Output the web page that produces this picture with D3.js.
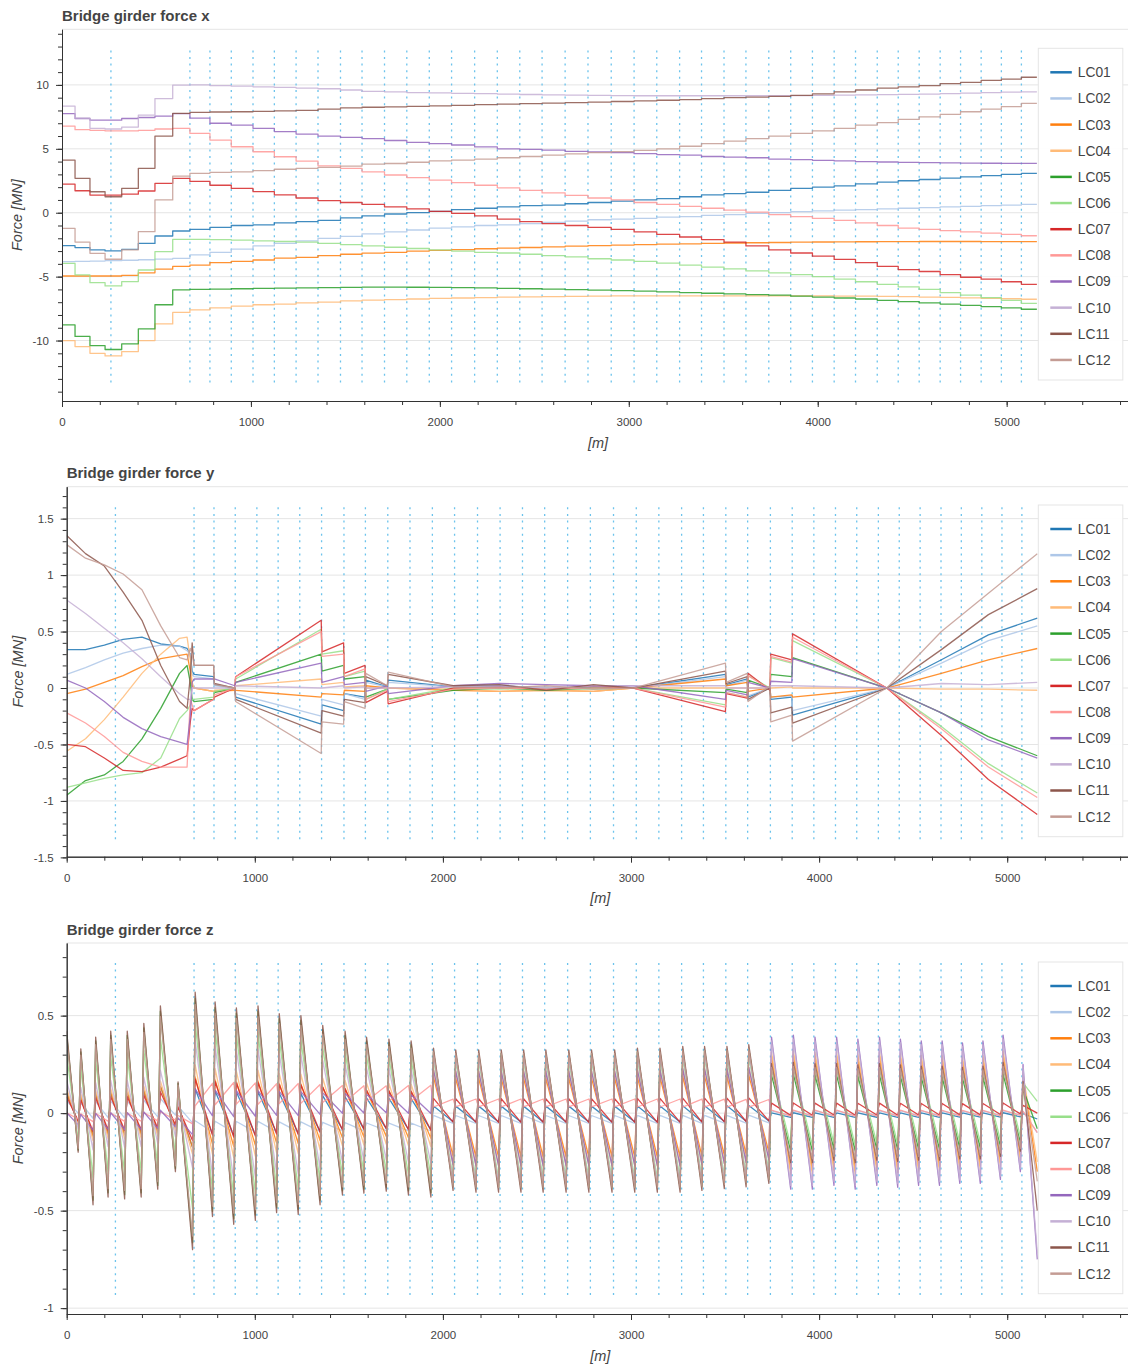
<!DOCTYPE html>
<html><head><meta charset="utf-8">
<script src="https://cdn.jsdelivr.net/npm/d3@7"></script>
<style>
html,body{margin:0;padding:0;background:#fff;}
svg{display:block;font-family:"Liberation Sans",Arial,Helvetica,sans-serif;}
</style></head><body>
<svg id="c" width="1128" height="1367"></svg>
<script>
// ---------------- shared data ----------------
const seriesNames = ["LC01","LC02","LC03","LC04","LC05","LC06","LC07","LC08","LC09","LC10","LC11","LC12"];
const seriesColors = ["#1f77b4","#aec7e8","#ff7f0e","#ffbb78","#2ca02c","#98df8a","#d62728","#ff9896","#9467bd","#c5b0d5","#8c564b","#c49c94"];
const piers = [259,677,783,896,1011,1124,1239,1355,1474,1588,1707,1825,1944,2062,2184,2304,2423,2541,2663,2784,2907,3028,3148,3269,3385,3504,3620,3741,3857,3972,4087,4200,4315,4426,4537,4648,4756,4865,4972,5078];
const xTickVals = [0,1000,2000,3000,4000,5000];
const xTickLabels = ["0","1000","2000","3000","4000","5000"];
const xMinorVals = d3.range(0, 5601, 200);

// ---------------- chart 1 : force x (step lines) ----------------
const fxX = [0,69,148,228,316,404,492,586,677,783,896,1011,1124,1239,1355,1474,1588,1707,1825,1944,2062,2184,2304,2423,2541,2663,2784,2907,3028,3148,3269,3385,3504,3620,3741,3857,3972,4087,4200,4315,4426,4537,4648,4756,4865,4972,5078];
const fxEndX = 5160;
const fxLC01 = [-2.58,-2.73,-2.9,-2.99,-2.86,-2.4,-1.82,-1.43,-1.3,-1.14,-1.0,-0.95,-0.8,-0.7,-0.6,-0.4,-0.25,-0.1,0.0,0.1,0.25,0.35,0.45,0.55,0.6,0.7,0.8,0.9,1.0,1.1,1.25,1.4,1.5,1.6,1.75,1.9,2.0,2.1,2.25,2.4,2.5,2.6,2.7,2.8,2.9,3.0,3.08];
const fxLC02 = [-3.83,-3.8,-3.78,-3.75,-3.72,-3.68,-3.63,-3.57,-3.3,-3.1,-2.85,-2.6,-2.4,-2.2,-2.0,-1.85,-1.65,-1.5,-1.35,-1.2,-1.1,-1.0,-0.95,-0.85,-0.75,-0.65,-0.55,-0.5,-0.45,-0.35,-0.3,-0.2,-0.15,-0.05,0.0,0.08,0.15,0.2,0.25,0.3,0.35,0.4,0.45,0.5,0.55,0.6,0.65];
const fxLC03 = [-4.95,-4.95,-4.95,-4.95,-4.9,-4.7,-4.42,-4.2,-4.1,-3.9,-3.8,-3.7,-3.55,-3.5,-3.35,-3.25,-3.16,-3.1,-3.0,-2.95,-2.88,-2.82,-2.77,-2.72,-2.67,-2.62,-2.57,-2.53,-2.5,-2.46,-2.43,-2.4,-2.37,-2.35,-2.33,-2.3,-2.29,-2.28,-2.27,-2.26,-2.26,-2.25,-2.25,-2.25,-2.26,-2.26,-2.26];
const fxLC04 = [-10.0,-10.47,-11.0,-11.2,-10.86,-10.0,-8.7,-7.8,-7.6,-7.45,-7.3,-7.2,-7.15,-7.05,-7.0,-6.9,-6.84,-6.8,-6.75,-6.7,-6.67,-6.64,-6.6,-6.58,-6.56,-6.54,-6.52,-6.5,-6.5,-6.5,-6.5,-6.5,-6.5,-6.5,-6.5,-6.5,-6.5,-6.52,-6.53,-6.55,-6.56,-6.6,-6.63,-6.66,-6.7,-6.73,-6.77];
const fxLC05 = [-8.77,-9.68,-10.4,-10.7,-10.26,-9.09,-7.2,-6.04,-6.0,-5.98,-5.95,-5.92,-5.9,-5.88,-5.86,-5.84,-5.82,-5.82,-5.83,-5.84,-5.86,-5.88,-5.92,-5.95,-5.98,-6.02,-6.06,-6.1,-6.14,-6.2,-6.25,-6.3,-6.35,-6.4,-6.45,-6.52,-6.6,-6.67,-6.75,-6.85,-6.95,-7.05,-7.15,-7.25,-7.35,-7.45,-7.55];
const fxLC06 = [-3.96,-4.87,-5.47,-5.73,-5.39,-4.48,-3.05,-2.08,-2.08,-2.1,-2.15,-2.2,-2.25,-2.3,-2.4,-2.5,-2.6,-2.7,-2.8,-2.9,-3.0,-3.1,-3.15,-3.25,-3.35,-3.45,-3.6,-3.7,-3.8,-3.95,-4.1,-4.25,-4.4,-4.55,-4.7,-4.85,-5.0,-5.2,-5.4,-5.6,-5.8,-6.0,-6.25,-6.45,-6.65,-6.85,-7.1];
const fxLC07 = [2.24,1.72,1.38,1.38,1.45,1.7,2.3,2.69,2.45,2.15,1.9,1.65,1.4,1.15,0.95,0.8,0.65,0.45,0.3,0.1,-0.05,-0.25,-0.5,-0.7,-0.85,-1.0,-1.15,-1.3,-1.5,-1.7,-1.9,-2.1,-2.3,-2.6,-2.9,-3.15,-3.4,-3.65,-3.9,-4.2,-4.45,-4.6,-4.85,-5.05,-5.2,-5.4,-5.6];
const fxLC08 = [6.77,6.5,6.45,6.4,6.4,6.45,6.55,6.6,6.2,5.68,5.16,4.77,4.38,4.04,3.67,3.47,3.2,2.95,2.75,2.55,2.35,2.15,1.95,1.75,1.55,1.35,1.15,1.0,0.8,0.65,0.5,0.35,0.2,0.05,-0.15,-0.3,-0.45,-0.6,-0.8,-1.0,-1.2,-1.3,-1.4,-1.5,-1.6,-1.7,-1.8];
const fxLC09 = [7.76,7.37,7.24,7.24,7.37,7.45,7.55,7.76,7.4,7.0,6.85,6.6,6.35,6.15,6.0,5.9,5.8,5.65,5.5,5.4,5.3,5.15,5.0,4.95,4.9,4.8,4.75,4.7,4.62,4.55,4.5,4.4,4.35,4.3,4.2,4.15,4.1,4.05,4.0,3.97,3.94,3.92,3.9,3.88,3.87,3.86,3.86];
const fxLC10 = [8.34,7.4,6.6,6.55,6.7,7.63,8.93,9.98,10.0,9.95,9.9,9.85,9.8,9.75,9.7,9.6,9.5,9.45,9.4,9.37,9.34,9.31,9.28,9.25,9.22,9.2,9.18,9.16,9.15,9.15,9.15,9.15,9.15,9.15,9.15,9.16,9.18,9.2,9.22,9.24,9.26,9.28,9.32,9.36,9.4,9.43,9.45];
const fxLC11 = [4.12,2.69,1.64,1.25,1.9,3.47,6.0,7.77,7.85,7.88,7.9,7.93,7.97,8.0,8.1,8.2,8.25,8.28,8.32,8.36,8.4,8.45,8.5,8.53,8.57,8.62,8.66,8.7,8.75,8.8,8.85,8.92,9.0,9.05,9.1,9.18,9.3,9.45,9.6,9.75,9.85,9.95,10.1,10.2,10.35,10.45,10.6];
const fxLC12 = [-1.22,-2.3,-3.18,-3.64,-2.9,-1.48,1.0,2.87,3.08,3.15,3.2,3.3,3.4,3.47,3.55,3.65,3.8,3.85,3.95,4.05,4.12,4.2,4.3,4.4,4.5,4.6,4.7,4.78,4.88,5.0,5.2,5.4,5.6,5.8,6.0,6.2,6.4,6.6,6.85,7.05,7.3,7.5,7.7,7.9,8.1,8.3,8.55];
const fxYTickVals = [-10,-5,0,5,10];
const fxYTickLabels = ["-10","-5","0","5","10"];
const fxYMinor = d3.range(-14, 15, 1);

// ---------------- chart 2 : force y ----------------
const fyX = [0,100,200,300,400,500,600,640,657,667,677,781,785,894,898,1353,1357,1472,1476,1586,1590,1705,1709,2055,2300,2550,2800,3012,3502,3506,3618,3622,3739,3743,3855,3859,4360,4650,4900,5160];
const fyLC01 = [0.34,0.34,0.38,0.43,0.45,0.39,0.37,0.35,0.3,0.15,0.12,0.1,0.03,0.0,-0.08,-0.32,-0.15,-0.2,-0.05,-0.08,0.07,0.01,0.07,0.01,0.02,0.0,0.01,0.0,0.12,0.03,0.08,-0.08,0.0,-0.1,-0.08,-0.24,0.0,0.25,0.47,0.62];
const fyLC02 = [0.12,0.18,0.25,0.31,0.35,0.38,0.37,0.33,0.3,0.12,0.1,0.08,0.02,0.0,-0.05,-0.25,-0.1,-0.15,-0.05,-0.1,0.05,0.01,0.05,0.01,0.0,0.01,-0.01,0.0,0.1,0.02,0.07,-0.07,0.0,-0.08,-0.07,-0.2,0.0,0.22,0.42,0.55];
const fyLC03 = [-0.05,-0.01,0.05,0.11,0.19,0.26,0.29,0.3,0.15,0.02,0.0,-0.03,-0.03,-0.02,-0.02,-0.08,-0.05,-0.06,-0.02,-0.03,0.02,0.0,0.0,-0.02,-0.03,-0.02,-0.03,0.0,0.08,0.02,0.05,-0.03,0.0,-0.08,-0.06,-0.08,0.0,0.13,0.25,0.35];
const fyLC04 = [-0.56,-0.45,-0.28,-0.08,0.13,0.3,0.44,0.45,0.25,0.05,0.0,-0.03,-0.02,-0.01,0.02,0.08,0.03,0.05,0.01,0.02,0.0,0.0,0.0,-0.01,-0.03,-0.02,-0.03,0.0,0.0,0.0,0.0,0.0,0.0,0.0,0.01,0.0,0.0,-0.01,-0.01,-0.02];
const fyLC05 = [-0.95,-0.82,-0.77,-0.65,-0.45,-0.18,0.13,0.2,0.05,-0.1,-0.12,-0.1,-0.04,0.0,0.05,0.3,0.15,0.2,0.08,0.1,-0.08,-0.01,-0.1,-0.02,0.0,-0.02,0.0,0.0,-0.04,-0.01,-0.04,0.07,0.0,0.12,0.1,0.27,0.0,-0.22,-0.43,-0.6];
const fyLC06 = [-0.88,-0.84,-0.8,-0.77,-0.75,-0.62,-0.27,-0.2,-0.15,-0.1,-0.1,-0.08,-0.03,0.0,0.08,0.52,0.3,0.33,0.1,0.15,-0.1,-0.01,-0.1,0.0,-0.01,0.0,-0.01,0.0,-0.15,-0.04,-0.08,0.11,0.0,0.27,0.22,0.42,0.0,-0.34,-0.67,-0.93];
const fyLC07 = [-0.5,-0.52,-0.62,-0.73,-0.74,-0.7,-0.63,-0.6,-0.3,-0.18,-0.2,-0.1,-0.08,0.0,0.1,0.6,0.32,0.4,0.13,0.2,-0.13,-0.03,-0.14,0.0,0.01,-0.01,0.02,0.0,-0.21,-0.05,-0.09,0.13,-0.02,0.3,0.25,0.48,0.0,-0.42,-0.81,-1.12];
const fyLC08 = [-0.22,-0.31,-0.43,-0.57,-0.65,-0.7,-0.7,-0.7,-0.1,-0.15,-0.2,-0.1,-0.06,0.0,0.1,0.5,0.28,0.3,0.1,0.17,-0.1,-0.02,-0.12,-0.01,0.0,-0.01,0.0,0.0,-0.17,-0.04,-0.08,0.11,-0.01,0.28,0.23,0.45,0.0,-0.36,-0.7,-0.97];
const fyLC09 = [0.07,0.0,-0.12,-0.26,-0.36,-0.43,-0.48,-0.5,-0.25,0.05,0.08,0.08,0.08,0.02,0.05,0.22,0.05,0.1,0.03,0.05,-0.03,0.02,-0.05,0.02,0.04,0.03,0.02,0.02,-0.1,-0.02,-0.06,0.05,0.0,0.06,0.05,0.26,0.0,-0.22,-0.46,-0.62];
const fyLC10 = [0.78,0.66,0.53,0.4,0.26,0.1,-0.05,-0.1,-0.1,0.0,0.0,0.0,0.0,0.0,0.02,0.0,0.0,0.02,0.0,0.01,0.0,0.0,0.0,0.01,0.02,0.0,0.02,0.02,0.02,0.0,0.0,0.0,0.0,0.02,0.02,0.02,0.0,0.04,0.03,0.05];
const fyLC11 = [1.35,1.19,1.08,0.85,0.6,0.2,-0.12,-0.18,0.1,0.4,0.2,0.2,0.04,0.0,-0.1,-0.4,-0.2,-0.25,-0.1,-0.13,0.1,0.02,0.12,0.02,0.03,-0.02,0.03,0.0,0.15,0.04,0.1,-0.1,0.0,-0.22,-0.17,-0.31,0.0,0.34,0.65,0.88];
const fyLC12 = [1.27,1.15,1.09,1.01,0.87,0.55,0.27,0.25,0.35,0.3,0.2,0.2,0.03,0.0,-0.12,-0.58,-0.3,-0.32,-0.12,-0.18,0.13,0.02,0.14,0.01,0.0,0.02,-0.01,0.0,0.22,0.05,0.13,-0.12,0.02,-0.3,-0.24,-0.47,0.0,0.5,0.84,1.19];
const fyYTickVals = [-1.5,-1,-0.5,0,0.5,1,1.5];
const fyYTickLabels = ["-1.5","-1","-0.5","0","0.5","1","1.5"];
const fyYMinor = d3.range(-15, 18, 1).map(v => v / 10);

// ---------------- chart 3 : force z (sawtooth per span) ----------------
const fzSupports = fxX;
const fzZone = [0,0,0,0,0,0,0,0, 1,1,1,1,1,1,1,1,1,1,1, 2,2,2,2,2,2,2,2,2,2,2,2,2,2,2, 3,3,3,3,3,3,3,3,3,3,3,3,3];
const fzPeak = [0.42,0.33,0.39,0.42,0.42,0.46,0.55,0.16,0.62,0.57,0.54,0.55,0.51,0.5,0.45,0.42,0.39,0.38,0.37,0.37,0.36,0.36,0.36,0.36,0.36,0.36,0.36,0.36,0.37,0.37,0.38,0.38,0.38,0.39,0.39,0.4,0.39,0.39,0.38,0.39,0.38,0.37,0.37,0.36,0.37,0.4,0.25];
const fzTrough = [-0.2,-0.47,-0.43,-0.44,-0.43,-0.39,-0.3,-0.7,-0.53,-0.57,-0.55,-0.51,-0.52,-0.47,-0.42,-0.41,-0.4,-0.42,-0.43,-0.44,-0.45,-0.45,-0.45,-0.45,-0.45,-0.45,-0.45,-0.45,-0.45,-0.45,-0.44,-0.43,-0.42,-0.4,-0.39,-0.39,-0.37,-0.39,-0.37,-0.38,-0.37,-0.37,-0.36,-0.36,-0.34,-0.3];
const fzGain = [[0.25,0.2,0.1,0.03],[0.1,0.05,0.05,0.03],[0.25,0.3,0.5,0.75],[0.3,0.4,0.6,0.8],[0.95,0.95,0.85,0.5],[0.7,0.75,0.75,0.5],[0.2,0.25,0.15,0.08],[0.05,-0.1,-0.05,0.04],[0.1,0.12,0.6,1.0],[0.4,0.6,0.8,0.95],[1.0,1.0,0.9,0.65],[0.9,0.9,0.85,0.6]];
const fzOffset = [[0,0,0,-0.01],[0.02,-0.07,-0.03,0],[0,0,0,0],[0,0,0,0],[0,0,0,0],[0,0,0,0.03],[0,0.02,0.02,0.02],[-0.02,0.1,0.05,0],[-0.04,0.05,0,0],[0,0,0,0],[0,0,0,0],[0,0,0,0]];
const fzEndX = 5160;
const fzEnd = [-0.03,-0.1,-0.3,-0.25,-0.08,0.06,0.0,-0.1,-0.75,-0.72,-0.5,-0.35];
const fzYTickVals = [-1,-0.5,0,0.5];
const fzYTickLabels = ["-1","-0.5","0","0.5"];
const fzYMinor = d3.range(-10, 9, 1).map(v => v / 10);

// ---------------- build point lists ----------------
const fxSeries = [fxLC01,fxLC02,fxLC03,fxLC04,fxLC05,fxLC06,fxLC07,fxLC08,fxLC09,fxLC10,fxLC11,fxLC12]
  .map(vals => { const p = fxX.map((xv, i) => [xv, vals[i]]); p.push([fxEndX, vals[vals.length - 1]]); return p; });
const fySeries = [fyLC01,fyLC02,fyLC03,fyLC04,fyLC05,fyLC06,fyLC07,fyLC08,fyLC09,fyLC10,fyLC11,fyLC12]
  .map(vals => fyX.map((xv, i) => [xv, vals[i]]));
const fzSeries = seriesNames.map((n, k) => {
  const pts = [];
  for (let i = 0; i < fzSupports.length; i++) {
    const z = fzZone[i], g = fzGain[k][z], o = fzOffset[k][z];
    pts.push([i === 0 ? 0 : fzSupports[i] + 6, o + g * fzPeak[i]]);
    if (i < fzSupports.length - 1) pts.push([fzSupports[i + 1] - 8, o + g * fzTrough[i]]);
  }
  pts.push([fzEndX, fzEnd[k]]);
  return pts;
});

// ---------------- layout ----------------
const charts = [
  {id:1, title:"Bridge girder force x", left:62, right:1134, top:29.3, bottom:401, xMax:5674, yMin:-14.73, yMax:14.35,
   dotLo:-13.4, dotHi:12.7, legendTop:48.3, titleY:20.5, tv:fxYTickVals, tl:fxYTickLabels, minor:fxYMinor, series:fxSeries, curve:d3.curveStepAfter},
  {id:2, title:"Bridge girder force y", left:66.7, right:1134, top:486.7, bottom:856.7, xMax:5674, yMin:-1.494, yMax:1.783,
   dotLo:-1.34, dotHi:1.6, legendTop:505, titleY:477.5, tv:fyYTickVals, tl:fyYTickLabels, minor:fyYMinor, series:fySeries, curve:d3.curveLinear},
  {id:3, title:"Bridge girder force z", left:66.7, right:1134, top:943, bottom:1314, xMax:5674, yMin:-1.030, yMax:0.8725,
   dotLo:-0.945, dotHi:0.77, legendTop:962, titleY:934.5, tv:fzYTickVals, tl:fzYTickLabels, minor:fzYMinor, series:fzSeries, curve:d3.curveLinear}
];

const svg = d3.select("#c");
const FONT = "'Liberation Sans',Arial,Helvetica,sans-serif";

charts.forEach(L => {
  const g = svg.append("g");
  const x = d3.scaleLinear().domain([0, L.xMax]).range([L.left, L.right]);
  const y = d3.scaleLinear().domain([L.yMin, L.yMax]).range([L.bottom, L.top]);
  const clipId = "clip" + L.id;
  svg.append("clipPath").attr("id", clipId).append("rect")
    .attr("x", L.left).attr("y", L.top).attr("width", L.right - L.left).attr("height", L.bottom - L.top);

  // grid + outline
  g.append("g").selectAll("line").data(L.tv).join("line")
    .attr("x1", L.left).attr("x2", L.right).attr("y1", d => y(d)).attr("y2", d => y(d))
    .attr("stroke", "#e5e5e5").attr("stroke-width", 1);
  g.append("line").attr("x1", L.left).attr("x2", L.right).attr("y1", L.top).attr("y2", L.top)
    .attr("stroke", "#e5e5e5");

  // pier markers
  g.append("g").selectAll("line").data(piers).join("line")
    .attr("x1", d => x(d)).attr("x2", d => x(d)).attr("y1", y(L.dotHi)).attr("y2", y(L.dotLo))
    .attr("stroke", "#6cc3ec").attr("stroke-width", 1.3).attr("stroke-dasharray", "2,4.6");

  // series
  const lg = g.append("g").attr("clip-path", `url(#${clipId})`);
  const line = d3.line().x(p => x(p[0])).y(p => y(p[1])).curve(L.curve);
  L.series.forEach((pts, i) => {
    lg.append("path").attr("d", line(pts)).attr("fill", "none")
      .attr("stroke", seriesColors[i]).attr("stroke-width", 1.3).attr("stroke-opacity", 0.85)
      .attr("stroke-linejoin", "round");
  });

  // axes
  const styleAxis = s => {
    s.attr("font-family", FONT).attr("font-size", "11.5px");
    s.selectAll("line,path").attr("stroke", "#333");
    s.selectAll("text").attr("fill", "#444");
  };
  g.append("g").attr("transform", `translate(0,${L.bottom})`)
    .call(d3.axisBottom(x).tickValues(xMinorVals).tickSize(4).tickSizeOuter(0).tickFormat(""))
    .call(styleAxis);
  g.append("g").attr("transform", `translate(0,${L.bottom})`)
    .call(d3.axisBottom(x).tickValues(xTickVals).tickFormat((d, i) => xTickLabels[i]).tickSize(6).tickSizeOuter(0).tickPadding(10.8))
    .call(styleAxis);
  g.append("g").attr("transform", `translate(${L.left},0)`)
    .call(d3.axisLeft(y).tickValues(L.minor).tickSize(4).tickSizeOuter(0).tickFormat(""))
    .call(styleAxis);
  g.append("g").attr("transform", `translate(${L.left},0)`)
    .call(d3.axisLeft(y).tickValues(L.tv).tickFormat((d, i) => L.tl[i]).tickSize(6).tickSizeOuter(0).tickPadding(7))
    .call(styleAxis);

  // titles and labels
  g.append("text").attr("x", L.left).attr("y", L.titleY).text(L.title)
    .attr("font-family", FONT).attr("font-weight", "bold").attr("font-size", "15px").attr("fill", "#444");
  g.append("text").attr("x", (L.left + L.right) / 2).attr("y", L.bottom + 46.5).text("[m]")
    .attr("text-anchor", "middle").attr("font-family", FONT).attr("font-style", "italic")
    .attr("font-size", "14.5px").attr("fill", "#444");
  const cy = (L.top + L.bottom) / 2;
  g.append("text").attr("transform", `translate(${L.id === 1 ? 22 : 23},${cy}) rotate(-90)`).text("Force [MN]")
    .attr("text-anchor", "middle").attr("font-family", FONT).attr("font-style", "italic")
    .attr("font-size", "14.5px").attr("fill", "#444");

  // legend
  const lgd = g.append("g").attr("transform", `translate(1038.3,${L.legendTop})`);
  lgd.append("rect").attr("x", 0).attr("y", 0).attr("width", 84.5).attr("height", 331.7)
    .attr("fill", "#fff").attr("fill-opacity", 0.95).attr("stroke", "#e5e5e5");
  seriesNames.forEach((n, i) => {
    const yy = 24 + i * 26.15;
    lgd.append("line").attr("x1", 12).attr("x2", 33.5).attr("y1", yy).attr("y2", yy)
      .attr("stroke", seriesColors[i]).attr("stroke-width", 2.5);
    lgd.append("text").attr("x", 39.5).attr("y", yy).attr("dy", "0.36em").text(n)
      .attr("font-family", FONT).attr("font-size", "13.8px").attr("fill", "#444");
  });
});
</script>
</body></html>
